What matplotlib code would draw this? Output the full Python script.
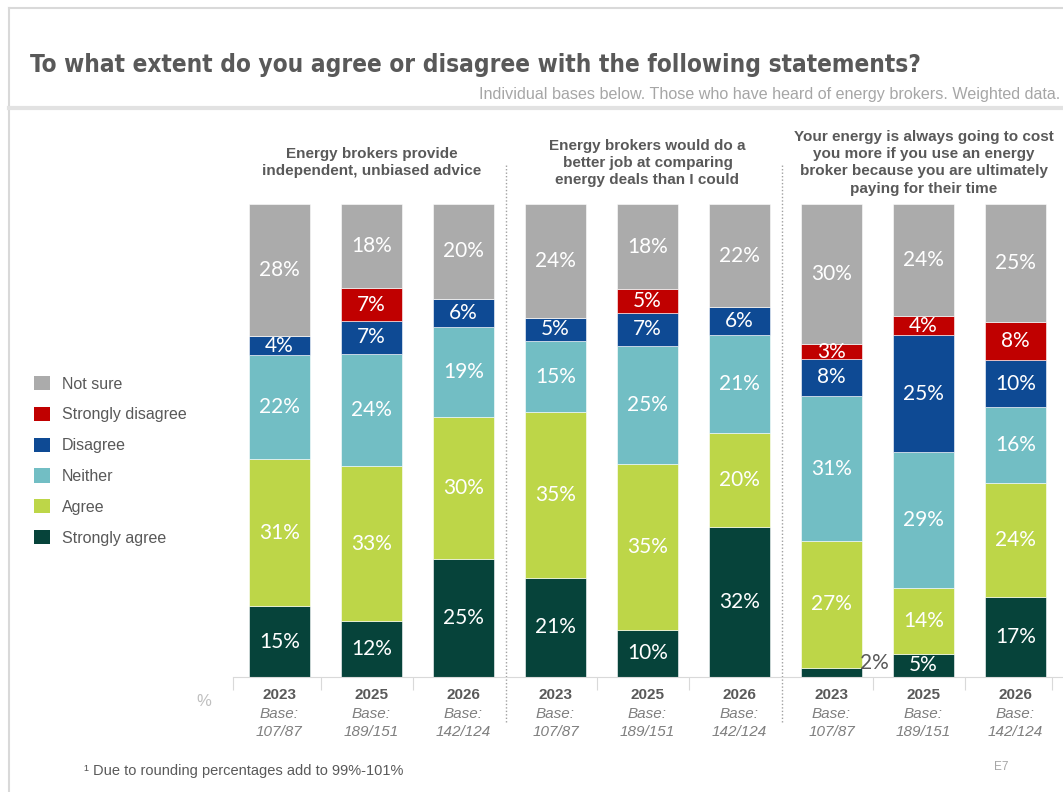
import matplotlib.pyplot as plt
import numpy as np
from matplotlib.lines import Line2D
from matplotlib.patches import Patch

W, H = 1063, 792

statements = [
    'Energy brokers provide\nindependent, unbiased advice',
    'Energy brokers would do a\nbetter job at comparing\nenergy deals than I could',
    'Your energy is always going to cost\nyou more if you use an energy\nbroker because you are ultimately\npaying for their time',
]
years = ['2023', '2025', '2026'] * 3
bases = ['107/87', '189/151', '142/124'] * 3

# stacked bottom to top
names = ['Strongly agree', 'Agree', 'Neither', 'Disagree', 'Strongly disagree', 'Not sure']
colors = ['#06433A', '#BDD648', '#72BEC4', '#0E4A94', '#C00000', '#ABABAB']

strongly_agree = [15, 12, 25, 21, 10, 32, 2, 5, 17]
agree = [31, 33, 30, 35, 35, 20, 27, 14, 24]
neither = [22, 24, 19, 15, 25, 21, 31, 29, 16]
disagree = [4, 7, 6, 5, 7, 6, 8, 25, 10]
strongly_disagree = [0, 7, 0, 0, 5, 0, 3, 4, 8]
not_sure = [28, 18, 20, 24, 18, 22, 30, 24, 25]

GREY = '#595959'
NUMFONT = 'Lato'
TXTFONT = 'Liberation Sans'


def fx(px):
    return px / W


def fy(py):
    return 1 - py / H


fig = plt.figure(figsize=(W / 100, H / 100), dpi=100)
ax = fig.add_axes([fx(233), fy(677), (W - 233) / W, 473 / H])

series = [strongly_agree, agree, neither, disagree, strongly_disagree, not_sure]
totals = np.sum(series, axis=0)
x = np.arange(len(years))
bottom = np.zeros(len(years))
handles = []
for vals, name, color in zip(series, names, colors):
    share = np.array(vals) / totals
    ax.bar(x, share, 0.66, bottom=bottom, color=color, edgecolor='white', linewidth=0.4)
    for xi, v, b, s in zip(x, vals, bottom, share):
        if v == 0:
            continue
        if v < 3:
            ax.text(xi + 0.31, b + 0.03, f'{v}%', ha='left', va='center',
                    fontsize=15, color=GREY, family=NUMFONT)
        else:
            ax.text(xi, b + s / 2, f'{v}%', ha='center', va='center',
                    fontsize=15, color='white', family=NUMFONT)
    bottom += share
    handles.append(Patch(facecolor=color, edgecolor='none', label=name))

ax.set_xlim(-0.505, 8.516)
ax.set_ylim(0, 1)
for s in ['top', 'right', 'left']:
    ax.spines[s].set_visible(False)
ax.spines['bottom'].set_color('#D9D9D9')
ax.set_yticks([])
ax.set_xticks([-0.5, 0.45, 1.45, 3.45, 4.45, 6.45, 7.45, 8.4])
ax.set_xticklabels([])
ax.tick_params(axis='x', length=9, color='#D9D9D9', direction='out')

# year / base labels under each bar
for xi, yr, base in zip(x, years, bases):
    ax.text(xi, -0.038, yr, ha='center', va='center', fontsize=11,
            fontweight='bold', color=GREY, family=TXTFONT)
    ax.text(xi, -0.078, 'Base:', ha='center', va='center', fontsize=11,
            style='italic', color='#7F7F7F', family=TXTFONT)
    ax.text(xi, -0.116, base, ha='center', va='center', fontsize=11,
            style='italic', color='#7F7F7F', family=TXTFONT)

# statement headers and dotted group separators
for i, st in enumerate(statements):
    ax.text(3 * i + 1, 1.087, st, ha='center', va='center', fontsize=11,
            fontweight='bold', color=GREY, family=TXTFONT, linespacing=1.3)
for sep in [2.46, 5.46]:
    ax.plot([sep, sep], [-0.095, 1.087], ls=(0, (1, 1.5)), lw=1,
            color='#A0A0A0', clip_on=False)

fig.legend(handles=handles[::-1], loc='upper left',
           bbox_to_anchor=(fx(26), fy(368)), frameon=False,
           handlelength=1.0, handleheight=1.0,
           handletextpad=0.75, labelspacing=0.95, borderpad=0,
           labelcolor=GREY, prop={'family': TXTFONT, 'size': 11.5})

# page frame
frame = '#D9D9D9'
fig.add_artist(Line2D([fx(9), fx(9)], [0, fy(8)], color=frame, lw=1.5))
fig.add_artist(Line2D([fx(9), 1], [fy(8), fy(8)], color=frame, lw=1.5))
fig.add_artist(Line2D([fx(9), 1], [fy(108), fy(108)], color='#E2E2E2', lw=3))

fig.text(fx(30), fy(65), 'To what extent do you agree or disagree with the following statements?',
         ha='left', va='center', fontsize=17.5, fontweight='bold', fontstretch='condensed',
         color=GREY, family='DejaVu Sans')
fig.text(fx(1060), fy(95),
         'Individual bases below. Those who have heard of energy brokers. Weighted data.',
         ha='right', va='center', fontsize=11.6, color='#A6A6A6',
         family=['Liberation Sans Narrow', 'Liberation Sans'])
fig.text(fx(196), fy(702), '%', ha='left', va='center', fontsize=12,
         color='#BFBFBF', family=TXTFONT)
fig.text(fx(84), fy(771), '\u00b9 Due to rounding percentages add to 99%-101%',
         ha='left', va='center', fontsize=10.5, color=GREY, family=TXTFONT)
fig.text(fx(994), fy(767), 'E7', ha='left', va='center', fontsize=8.5,
         color='#A6A6A6', family=TXTFONT)

fig.savefig('out.png', dpi=100)
